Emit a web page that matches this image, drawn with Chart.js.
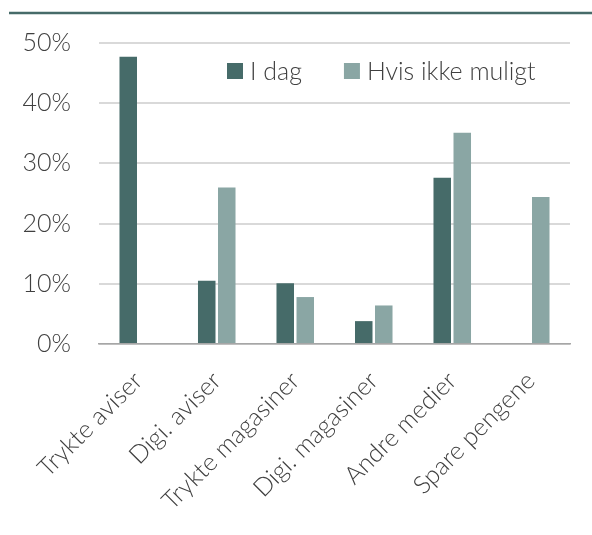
<!DOCTYPE html>
<html>
<head>
<meta charset="utf-8">
<script src="https://cdn.jsdelivr.net/npm/chart.js@4"></script>
<style>
  html, body { margin: 0; padding: 0; background: #fff; }
  #wrap { width: 592px; height: 535px; position: relative; }
</style>
</head>
<body>
<div id="wrap"><canvas id="chart" width="592" height="535"></canvas></div>
<script>
// kategorier og verdier (prosent)
const categories = ['Trykte aviser', 'Digi. aviser', 'Trykte magasiner', 'Digi. magasiner', 'Andre medier', 'Spare pengene'];
const iDag = [47.7, 10.5, 10.1, 3.8, 27.6, null];
const hvisIkkeMulig = [null, 26.0, 7.8, 6.4, 35.1, 24.4];
const yTicks = [0, 10, 20, 30, 40, 50];

const dark = '#466b69';
const light = '#8aa6a4';
const textColor = '#404040';
const font = "Lato, 'Open Sans', sans-serif";
const fontSize = 25;

// strek øverst
const topLine = {
    id: 'topLine',
    beforeDraw(chart) {
        const ctx = chart.ctx;
        ctx.save();
        ctx.strokeStyle = dark;
        ctx.lineWidth = 2.5;
        ctx.beginPath();
        ctx.moveTo(9, 13);
        ctx.lineTo(592, 13);
        ctx.stroke();
        ctx.restore();
    }
};

// legende inne i plottet, øverst til høyre
const innerLegend = {
    id: 'innerLegend',
    afterDatasetsDraw(chart) {
        const ctx = chart.ctx;
        ctx.save();
        ctx.font = '300 ' + fontSize + 'px ' + font;
        ctx.textBaseline = 'middle';
        let x = 227;
        const y = 71;
        chart.data.datasets.forEach(ds => {
            ctx.fillStyle = ds.backgroundColor;
            ctx.fillRect(x, y - 8, 16, 16);
            ctx.fillStyle = textColor;
            ctx.fillText(ds.label, x + 23, y + 1);
            x += 23 + ctx.measureText(ds.label).width + 42;
        });
        ctx.restore();
    }
};

new Chart(document.getElementById('chart').getContext('2d'), {
    type: 'bar',
    data: {
        labels: categories,
        datasets: [
            { label: 'I dag', data: iDag, backgroundColor: dark },
            { label: 'Hvis ikke muligt', data: hvisIkkeMulig, backgroundColor: light }
        ]
    },
    options: {
        responsive: false,
        animation: false,
        categoryPercentage: 0.51,
        barPercentage: 0.875,
        layout: { padding: { top: 43, right: 22, left: 0, bottom: 0 } },
        plugins: {
            tooltip: { enabled: false },
            legend: { display: false }
        },
        scales: {
            x: {
                afterFit(scale) { scale.height = 191; },
                grid: { display: false, drawTicks: false },
                border: { display: true, color: '#a6a6a6', width: 1.5 },
                ticks: {
                    color: textColor,
                    maxRotation: 45,
                    minRotation: 45,
                    padding: 22,
                    font: { family: font, size: fontSize, weight: '300' }
                }
            },
            y: {
                min: 0,
                max: 50,
                afterFit(scale) { scale.width = 99; },
                afterBuildTicks(scale) { scale.ticks = yTicks.map(v => ({ value: v })); },
                grid: { color: '#d9d9d9', lineWidth: 2, drawTicks: false },
                border: { display: false },
                ticks: {
                    color: textColor,
                    padding: 28,
                    callback: v => v + '%',
                    font: { family: font, size: fontSize, weight: '300' }
                }
            }
        }
    },
    plugins: [topLine, innerLegend]
});
</script>
</body>
</html>
